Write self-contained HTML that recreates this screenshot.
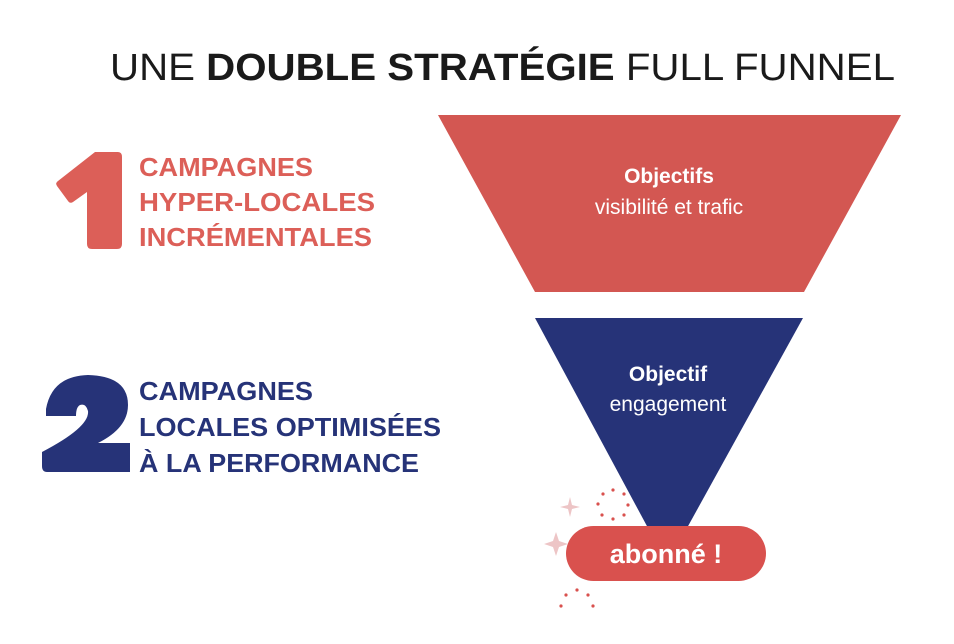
<!DOCTYPE html>
<html><head><meta charset="utf-8"><style>
html,body{margin:0;padding:0;background:#fff;width:954px;height:644px;overflow:hidden}
svg{display:block;font-family:"Liberation Sans",sans-serif}
</style></head><body>
<svg width="954" height="644" viewBox="0 0 954 644">
<text x="110" y="80" font-size="38" fill="#1a1a1a" textLength="785" lengthAdjust="spacingAndGlyphs">UNE <tspan font-weight="bold">DOUBLE STRATÉGIE</tspan> FULL FUNNEL</text>
<polygon points="438,115 901,115 804,292 535,292" fill="#d35752"/>
<text x="669" y="183" font-size="21" font-weight="bold" fill="#fff" text-anchor="middle">Objectifs</text>
<text x="669" y="214" font-size="21" fill="#fff" text-anchor="middle">visibilité et trafic</text>
<polygon points="535,318 803,318 687,528 648,528" fill="#263378"/>
<text x="668" y="381" font-size="21" font-weight="bold" fill="#fff" text-anchor="middle">Objectif</text>
<text x="668" y="411" font-size="21" fill="#fff" text-anchor="middle">engagement</text>
<rect x="566" y="526" width="200" height="55" rx="27.5" fill="#d9514e"/>
<text x="666" y="563" font-size="27" font-weight="bold" fill="#fff" text-anchor="middle">abonné !</text>
<g fill="#d9514e">
<circle cx="613" cy="490" r="1.6"/><circle cx="624" cy="494" r="1.6"/><circle cx="628" cy="505" r="1.6"/><circle cx="624" cy="515" r="1.6"/><circle cx="613" cy="519" r="1.6"/><circle cx="602" cy="515" r="1.6"/><circle cx="598" cy="504" r="1.6"/><circle cx="603" cy="494" r="1.6"/>
<circle cx="577" cy="590" r="1.6"/><circle cx="566" cy="595" r="1.6"/><circle cx="588" cy="595" r="1.6"/><circle cx="561" cy="606" r="1.6"/><circle cx="593" cy="606" r="1.6"/>
</g>
<g fill="#edc5c6">
<path d="M570,497 L572,505 L580,507 L572,509 L570,517 L568,509 L560,507 L568,505Z"/>
<path d="M556,532 L559,541 L568,544 L559,547 L556,556 L553,547 L544,544 L553,541Z"/>
</g>
<path d="M95,152 L118,152 Q122,152 122,157 L122,244 Q122,249 117,249 L92,249 Q87,249 87,244 L87,192 L73,202 Q70,204 68,201 L57,186 Q55,183 58,181 Z" fill="#dc5f58"/>
<g font-size="26" font-weight="bold" fill="#dc5f58">
<text x="139" y="176" textLength="174" lengthAdjust="spacingAndGlyphs">CAMPAGNES</text>
<text x="139" y="211" textLength="236" lengthAdjust="spacingAndGlyphs">HYPER-LOCALES</text>
<text x="139" y="246" textLength="233" lengthAdjust="spacingAndGlyphs">INCRÉMENTALES</text>
</g>
<path d="M46,409 Q52,376 88,375 Q128,376 128,405 Q128,428 98,443 L130,443 L130,472 L47,472 Q42,472 42,466 L42,452 Q90,427 88,411 Q86,403 80,405 Q76,407 76,416 L46,416Z" fill="#263378"/>
<g font-size="26" font-weight="bold" fill="#263378">
<text x="139" y="400" textLength="174" lengthAdjust="spacingAndGlyphs">CAMPAGNES</text>
<text x="139" y="436" textLength="302" lengthAdjust="spacingAndGlyphs">LOCALES OPTIMISÉES</text>
<text x="139" y="472" textLength="280" lengthAdjust="spacingAndGlyphs">À LA PERFORMANCE</text>
</g>
</svg>
</body></html>
